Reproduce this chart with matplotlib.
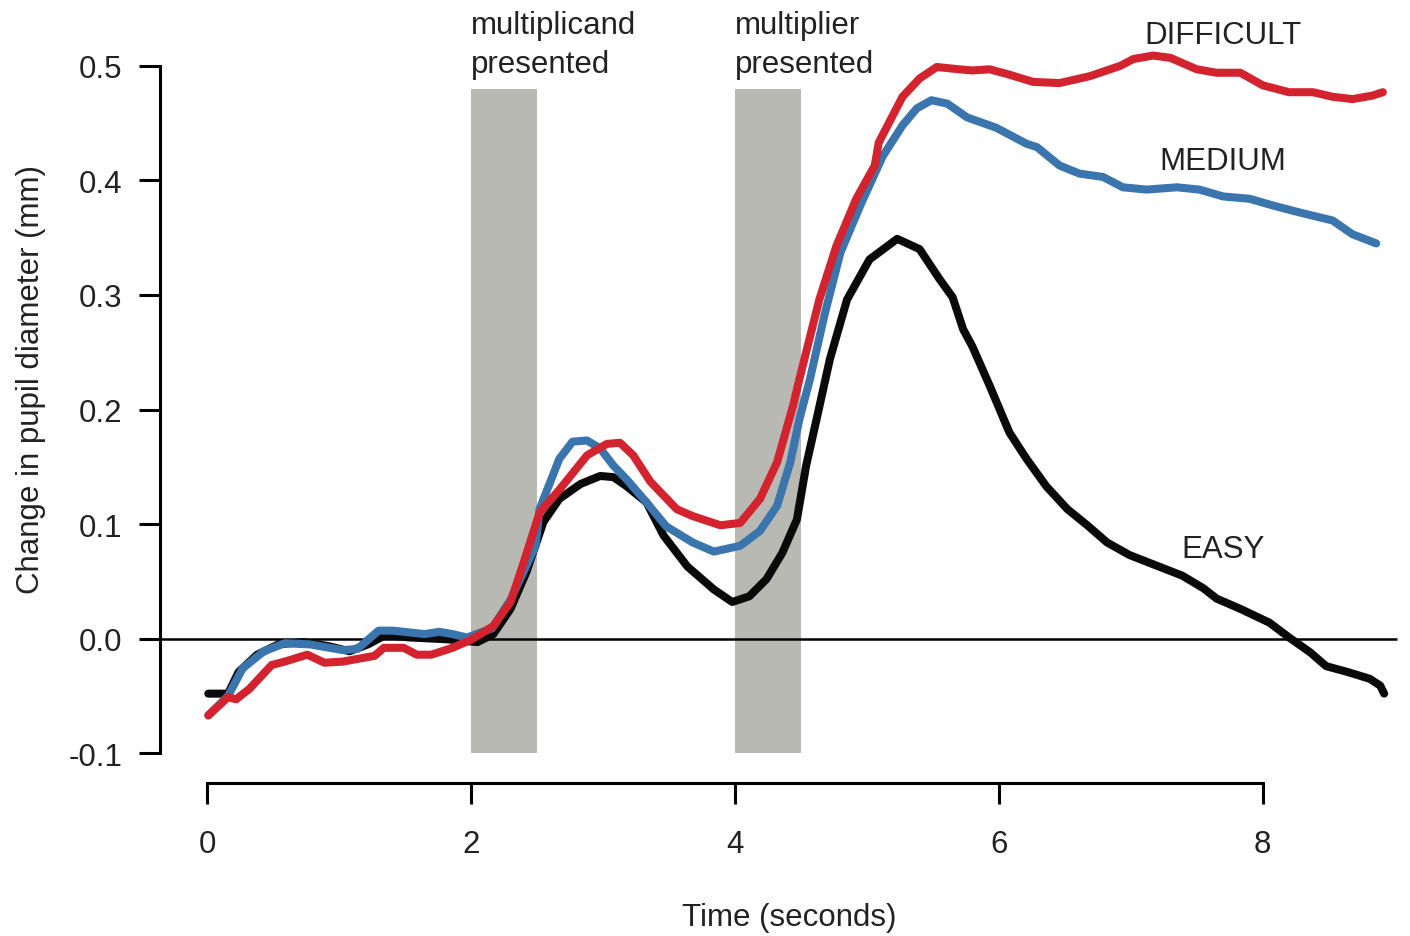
import matplotlib
matplotlib.use("Agg")
import matplotlib.pyplot as plt

plt.rcParams['font.family'] = ['Liberation Sans', 'DejaVu Sans']

# EASY (black)
t_easy = [0.01, 0.16, 0.24, 0.38, 0.54, 0.73, 0.92, 1.08, 1.22, 1.35, 1.54, 1.81,
          2.05, 2.17, 2.30, 2.42, 2.55, 2.67, 2.83, 2.98, 3.08, 3.18, 3.33, 3.46,
          3.64, 3.84, 3.98, 4.11, 4.24, 4.36, 4.47, 4.54, 4.62, 4.72, 4.85, 5.02,
          5.23, 5.40, 5.55, 5.65, 5.73, 5.80, 5.93, 6.08, 6.21, 6.36, 6.52, 6.67,
          6.82, 6.99, 7.19, 7.39, 7.55, 7.65, 7.83, 8.05, 8.20, 8.36, 8.48, 8.64,
          8.81, 8.89, 8.92]
y_easy = [-0.048, -0.048, -0.029, -0.014, -0.005, -0.003, -0.0065, -0.011, -0.005, 0.003, 0.001, -0.0005,
          -0.003, 0.004, 0.026, 0.058, 0.102, 0.122, 0.135, 0.142, 0.141, 0.133, 0.119, 0.090,
          0.063, 0.043, 0.032, 0.037, 0.052, 0.075, 0.104, 0.151, 0.192, 0.244, 0.296, 0.331,
          0.349, 0.340, 0.314, 0.298, 0.270, 0.255, 0.221, 0.180, 0.157, 0.133, 0.113, 0.099,
          0.084, 0.073, 0.064, 0.055, 0.044, 0.035, 0.026, 0.014, 0.001, -0.012, -0.024, -0.029,
          -0.035, -0.041, -0.048]

# MEDIUM (blue)
t_med = [0.01, 0.16, 0.27, 0.43, 0.59, 0.78, 1.03, 1.14, 1.30, 1.41, 1.65, 1.76,
         1.86, 1.97, 2.16, 2.30, 2.49, 2.52, 2.67, 2.77, 2.88, 2.98, 3.08, 3.18,
         3.33, 3.48, 3.68, 3.84, 4.04, 4.19, 4.32, 4.42, 4.49, 4.57, 4.68, 4.80,
         4.95, 5.12, 5.27, 5.38, 5.49, 5.61, 5.76, 5.98, 6.21, 6.29, 6.46, 6.61,
         6.79, 6.94, 7.12, 7.35, 7.52, 7.70, 7.90, 8.08, 8.28, 8.53, 8.68, 8.86]
y_med = [-0.067, -0.050, -0.026, -0.011, -0.004, -0.005, -0.010, -0.009, 0.007, 0.007, 0.004, 0.006,
         0.004, 0.001, 0.009, 0.034, 0.081, 0.113, 0.157, 0.172, 0.173, 0.166, 0.151, 0.139,
         0.119, 0.098, 0.084, 0.076, 0.081, 0.094, 0.116, 0.154, 0.192, 0.227, 0.283, 0.337,
         0.378, 0.421, 0.448, 0.463, 0.470, 0.467, 0.455, 0.446, 0.432, 0.429, 0.413, 0.406,
         0.403, 0.394, 0.392, 0.394, 0.392, 0.386, 0.384, 0.378, 0.372, 0.365, 0.353, 0.345]

# DIFFICULT (red)
t_diff = [0.01, 0.16, 0.22, 0.32, 0.49, 0.59, 0.76, 0.89, 1.03, 1.27, 1.34, 1.49,
          1.59, 1.70, 1.86, 2.00, 2.17, 2.30, 2.39, 2.52, 2.67, 2.88, 3.03, 3.13,
          3.23, 3.36, 3.56, 3.68, 3.89, 4.04, 4.19, 4.32, 4.44, 4.49, 4.64, 4.77,
          4.92, 5.06, 5.09, 5.27, 5.40, 5.53, 5.70, 5.80, 5.93, 6.06, 6.26, 6.46,
          6.69, 6.92, 7.02, 7.17, 7.30, 7.50, 7.65, 7.83, 8.00, 8.20, 8.38, 8.53,
          8.68, 8.83, 8.91]
y_diff = [-0.067, -0.051, -0.053, -0.044, -0.023, -0.020, -0.014, -0.021, -0.020, -0.015, -0.008, -0.008,
          -0.014, -0.014, -0.008, -0.001, 0.011, 0.032, 0.063, 0.110, 0.130, 0.160, 0.170, 0.171,
          0.160, 0.137, 0.113, 0.107, 0.099, 0.101, 0.122, 0.154, 0.203, 0.227, 0.296, 0.343,
          0.384, 0.413, 0.433, 0.473, 0.489, 0.499, 0.497, 0.496, 0.497, 0.493, 0.486, 0.485,
          0.491, 0.500, 0.506, 0.509, 0.507, 0.497, 0.494, 0.494, 0.483, 0.477, 0.477, 0.473,
          0.471, 0.474, 0.477]

# stimulus periods
stim_start = [2.0, 4.0]
stim_len = 0.5
stim_labels = ["multiplicand\npresented", "multiplier\npresented"]

xticks = [0, 2, 4, 6, 8]
yticks = [-0.1, 0.0, 0.1, 0.2, 0.3, 0.4, 0.5]
ytick_labels = ["-0.1", "0.0", "0.1", "0.2", "0.3", "0.4", "0.5"]

fs = 22.5
txt = "#222222"

fig = plt.figure(figsize=(14.1, 9.37), dpi=100)
ax = fig.add_axes([160/1410, 1 - 784/937, (1400-160)/1410, (784-5)/937])

ax.bar(stim_start, 0.58, width=stim_len, bottom=-0.1, align='edge',
       color='#b9b9b4', zorder=1)
ax.hlines(0, -0.51, 9.02, color='black', lw=1.8, clip_on=False, zorder=2)

line_kw = dict(lw=5.8, solid_joinstyle='round', solid_capstyle='round')
ax.plot(t_easy, y_easy, color='#0a0a0a', zorder=3, **line_kw)
ax.plot(t_med, y_med, color='#3a75ae', zorder=4, **line_kw)
ax.plot(t_diff, y_diff, color='#d2232e', zorder=5, **line_kw)

for s, lab in zip(stim_start, stim_labels):
    ax.text(s, 0.549, lab, fontsize=fs, color=txt, ha='left', va='top',
            linespacing=1.4, clip_on=False)

ax.text(7.70, 0.527, "DIFFICULT", fontsize=fs, color=txt, ha='center', va='center')
ax.text(7.70, 0.417, "MEDIUM", fontsize=fs, color=txt, ha='center', va='center')
ax.text(7.70, 0.078, "EASY", fontsize=fs, color=txt, ha='center', va='center')

ax.set_xlim(-0.356, 9.04)
ax.set_ylim(-0.126, 0.554)

for side in ['top', 'right']:
    ax.spines[side].set_visible(False)
ax.spines['left'].set_bounds(-0.1, 0.5)
ax.spines['bottom'].set_bounds(0, 8)
ax.spines['left'].set_linewidth(2.2)
ax.spines['bottom'].set_linewidth(2.2)

ax.set_xticks(xticks)
ax.set_yticks(yticks)
ax.set_yticklabels(ytick_labels)
ax.tick_params(axis='both', length=15, width=2.2, labelsize=fs, labelcolor=txt)
ax.tick_params(axis='y', pad=12)
ax.tick_params(axis='x', pad=18)

ax.set_xlabel("Time (seconds)", fontsize=fs, color=txt)
ax.set_ylabel("Change in pupil diameter (mm)", fontsize=fs, color=txt)
ax.xaxis.set_label_coords((789-160)/1240, -(903-784)/779)
ax.yaxis.set_label_coords(-(160-46)/1240, (784-379)/779)

fig.savefig("out.png", dpi=100)
